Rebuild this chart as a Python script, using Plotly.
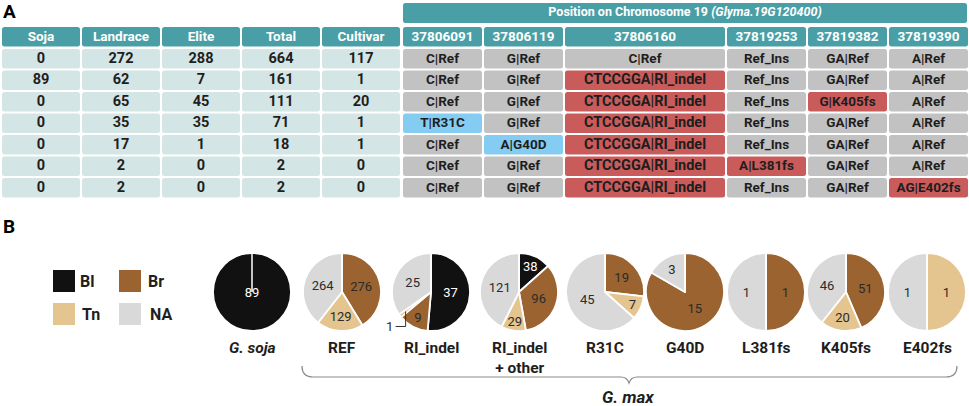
import math
import plotly.graph_objects as go

W, H = 969, 406

# ---------------- Panel A : table data ----------------
count_cols = ["Soja", "Landrace", "Elite", "Total", "Cultivar"]
soja = [0, 89, 0, 0, 0, 0, 0]
landrace = [272, 62, 65, 35, 17, 2, 2]
elite = [288, 7, 45, 35, 1, 0, 0]
total = [664, 161, 111, 71, 18, 2, 2]
cultivar = [117, 1, 20, 1, 1, 0, 0]

positions = ["37806091", "37806119", "37806160", "37819253", "37819382", "37819390"]
pos_37806091 = ["C|Ref", "C|Ref", "C|Ref", "T|R31C", "C|Ref", "C|Ref", "C|Ref"]
pos_37806119 = ["G|Ref", "G|Ref", "G|Ref", "G|Ref", "A|G40D", "G|Ref", "G|Ref"]
pos_37806160 = ["C|Ref"] + ["CTCCGGA|RI_indel"] * 6
pos_37819253 = ["Ref_Ins"] * 5 + ["A|L381fs", "Ref_Ins"]
pos_37819382 = ["GA|Ref", "GA|Ref", "G|K405fs", "GA|Ref", "GA|Ref", "GA|Ref", "GA|Ref"]
pos_37819390 = ["A|Ref"] * 6 + ["AG|E402fs"]

# ---------------- Panel B : pie data ----------------
pie_names = ["<i>G. soja</i>", "REF", "RI_indel", "RI_indel<br>+ other",
             "R31C", "G40D", "L381fs", "K405fs", "E402fs"]
phenotypes = ["Bl", "Br", "Tn", "NA"]
pie_bl = [89, 0, 37, 38, 0, 0, 0, 0, 0]
pie_br = [0, 276, 9, 96, 19, 15, 1, 51, 0]
pie_tn = [0, 129, 1, 29, 7, 0, 0, 20, 1]
pie_na = [0, 264, 25, 121, 45, 3, 1, 46, 1]

# colours
TEAL = "#4a9fa6"
LIGHT = "#d3e5e4"
GRAY = "#c2c2c2"
RED = "#c95b5b"
BLUE = "#85ccf2"
pheno_col = {"Bl": "#111111", "Br": "#9a6330", "Tn": "#e4c48f", "NA": "#d9d9d9"}

FONT = "Roboto"


def rrect(x0, y0, x1, y1, r=2.5):
    return (f"M{x0+r},{y0} L{x1-r},{y0} Q{x1},{y0} {x1},{y0+r} L{x1},{y1-r} "
            f"Q{x1},{y1} {x1-r},{y1} L{x0+r},{y1} Q{x0},{y1} {x0},{y1-r} "
            f"L{x0},{y0+r} Q{x0},{y0} {x0+r},{y0} Z")


def cell_colour(txt):
    if "Ref" in txt:
        return GRAY
    if "fs" in txt or "indel" in txt:
        return RED
    return BLUE


fig = go.Figure()
shapes = []
tx, ty, tt, tc, ts = [], [], [], [], []

# table geometry (pixels)
top_y0, top_y1 = 3, 23
head_y0 = 27
row_top = 49
row_pitch = 21.5
row_h = 19.5

left_x = [2 + 80 * i for i in range(5)]
left_w = 78
spans = [1, 1, 2, 1, 1, 1]
right_x, right_w = [], []
acc = 0
for s in spans:
    right_x.append(403 + 81 * acc)
    right_w.append(81 * s - 2)
    acc += s

# spanning header
shapes.append(dict(type="path", path=rrect(403, top_y0, 967, top_y1),
                   fillcolor=TEAL, line=dict(width=0), layer="below"))
tx.append(685); ty.append((top_y0 + top_y1) / 2)
tt.append("Position on Chromosome 19 <i>(Glyma.19G120400)</i>")
tc.append("white"); ts.append(12.5)

# column headers
for x0, w, name in list(zip(left_x, [left_w] * 5, count_cols)) + list(zip(right_x, right_w, positions)):
    shapes.append(dict(type="path", path=rrect(x0, head_y0, x0 + w, head_y0 + row_h),
                       fillcolor=TEAL, line=dict(width=0), layer="below"))
    tx.append(x0 + w / 2); ty.append(head_y0 + row_h / 2 + 0.5)
    tt.append(name); tc.append("white"); ts.append(13.5)

count_data = [soja, landrace, elite, total, cultivar]
pos_data = [pos_37806091, pos_37806119, pos_37806160, pos_37819253, pos_37819382, pos_37819390]

for r in range(7):
    y0 = row_top + row_pitch * r
    for x0, col in zip(left_x, count_data):
        shapes.append(dict(type="path", path=rrect(x0, y0, x0 + left_w, y0 + row_h),
                           fillcolor=LIGHT, line=dict(width=0), layer="below"))
        tx.append(x0 + left_w / 2); ty.append(y0 + row_h / 2 + 0.5)
        tt.append(str(col[r])); tc.append("#1e1e1e"); ts.append(14.5)
    for x0, w, col in zip(right_x, right_w, pos_data):
        txt = col[r]
        shapes.append(dict(type="path", path=rrect(x0, y0, x0 + w, y0 + row_h),
                           fillcolor=cell_colour(txt), line=dict(width=0), layer="below"))
        tx.append(x0 + w / 2); ty.append(y0 + row_h / 2 + 0.5)
        tt.append(txt); tc.append("#1e1e1e")
        ts.append(14.5 if "indel" in txt else 13.5)

fig.add_trace(go.Scatter(x=tx, y=ty, text=tt, mode="text",
                         textfont=dict(family=FONT, color=tc, size=ts, weight="bold"),
                         hoverinfo="skip", showlegend=False, cliponaxis=False))

# ---------------- pies ----------------
pie_cx = [252, 342, 431, 519, 605, 685, 766, 846, 927]
cy, rad = 292, 39
annotations = []

for i, name in enumerate(pie_names):
    vals = [pie_bl[i], pie_br[i], pie_tn[i], pie_na[i]]
    labs, vv, cols, txts, tcols = [], [], [], [], []
    for p, v in zip(phenotypes, vals):
        if v == 0:
            continue
        labs.append(p); vv.append(v); cols.append(pheno_col[p])
        txts.append("" if (name == "RI_indel" and p == "Tn") else str(v))
        tcols.append("white" if p == "Bl" else "#2b2b2b")
    cx = pie_cx[i]
    fig.add_trace(go.Pie(
        labels=labs, values=vv, sort=False, direction="clockwise", rotation=0,
        marker=dict(colors=cols, line=dict(color="white", width=1.8)),
        text=txts, textinfo="text", textposition="inside",
        insidetextorientation="horizontal",
        textfont=dict(family=FONT, size=13, color=tcols),
        domain=dict(x=[(cx - rad) / W, (cx + rad) / W],
                    y=[1 - (cy + rad) / H, 1 - (cy - rad) / H]),
        showlegend=False, hoverinfo="label+value"))
    annotations.append(dict(x=cx, y=337, xref="x", yref="y", text=f"<b>{name}</b>",
                            showarrow=False, yanchor="top", xanchor="center",
                            font=dict(family=FONT, size=15.5, color="#1e1e1e")))

    # G. soja: single slice, draw the seam line from centre to top
    if len(vv) == 1:
        shapes.append(dict(type="line", x0=cx, y0=cy, x1=cx, y1=cy - rad,
                           line=dict(color="white", width=1.5)))

    # leader line for the tiny Tn slice of RI_indel
    if name == "RI_indel":
        tot = sum(vv)
        before = pie_bl[i] + pie_br[i]
        mid = 2 * math.pi * (before + pie_tn[i] / 2) / tot
        px_ = cx + 0.82 * rad * math.sin(mid)
        py_ = cy - 0.82 * rad * math.cos(mid)
        shapes.append(dict(type="path",
                           path=f"M{px_},{py_} L{px_},{py_+15} L{px_-10},{py_+15}",
                           line=dict(color="#333", width=1)))
        annotations.append(dict(x=px_ - 11, y=py_ + 15, xref="x", yref="y",
                                text=str(pie_tn[i]), showarrow=False, xanchor="right",
                                font=dict(family=FONT, size=13, color="#2b2b2b")))

# legend squares
leg_pos = [(53, 270), (119, 270), (53, 303), (119, 303)]
leg_dx = [25, 27, 27, 29]
for p, (lx, ly), dx in zip(phenotypes, leg_pos, leg_dx):
    shapes.append(dict(type="rect", x0=lx, y0=ly, x1=lx + 22, y1=ly + 22,
                       fillcolor=pheno_col[p], line=dict(width=0)))
    annotations.append(dict(x=lx + dx, y=ly + 11, xref="x", yref="y", text=f"<b>{p}</b>",
                            showarrow=False, xanchor="left",
                            font=dict(family=FONT, size=16, color="#1e1e1e")))

# G. max bracket
shapes.append(dict(type="path",
                   path="M302,366 Q302,377 313,377 L621,377 Q627,377 629,383 "
                        "Q631,377 637,377 L946,377 Q957,377 957,366",
                   line=dict(color="#8a8a8a", width=1.2)))
annotations.append(dict(x=628, y=397, xref="x", yref="y", text="<b><i>G. max</i></b>",
                        showarrow=False, font=dict(family=FONT, size=17, color="#1e1e1e")))

# panel letters
for letter, ly in [("A", 11), ("B", 226)]:
    annotations.append(dict(x=1, y=ly, xref="x", yref="y", text=f"<b>{letter}</b>",
                            showarrow=False, xanchor="left",
                            font=dict(family=FONT, size=19, color="black")))

fig.update_layout(
    width=W, height=H, margin=dict(l=0, r=0, t=0, b=0),
    paper_bgcolor="white", plot_bgcolor="white",
    xaxis=dict(range=[0, W], visible=False, fixedrange=True, domain=[0, 1]),
    yaxis=dict(range=[H, 0], visible=False, fixedrange=True, domain=[0, 1]),
    shapes=shapes, annotations=annotations,
    uniformtext=dict(minsize=13, mode="show"),
    font=dict(family=FONT),
)

# page body has a default 8px margin, drop it so the figure fills the window
fig.write_html("out.html", config={"displayModeBar": False},
               post_script="document.body.style.margin='0';document.body.style.overflow='hidden';")
